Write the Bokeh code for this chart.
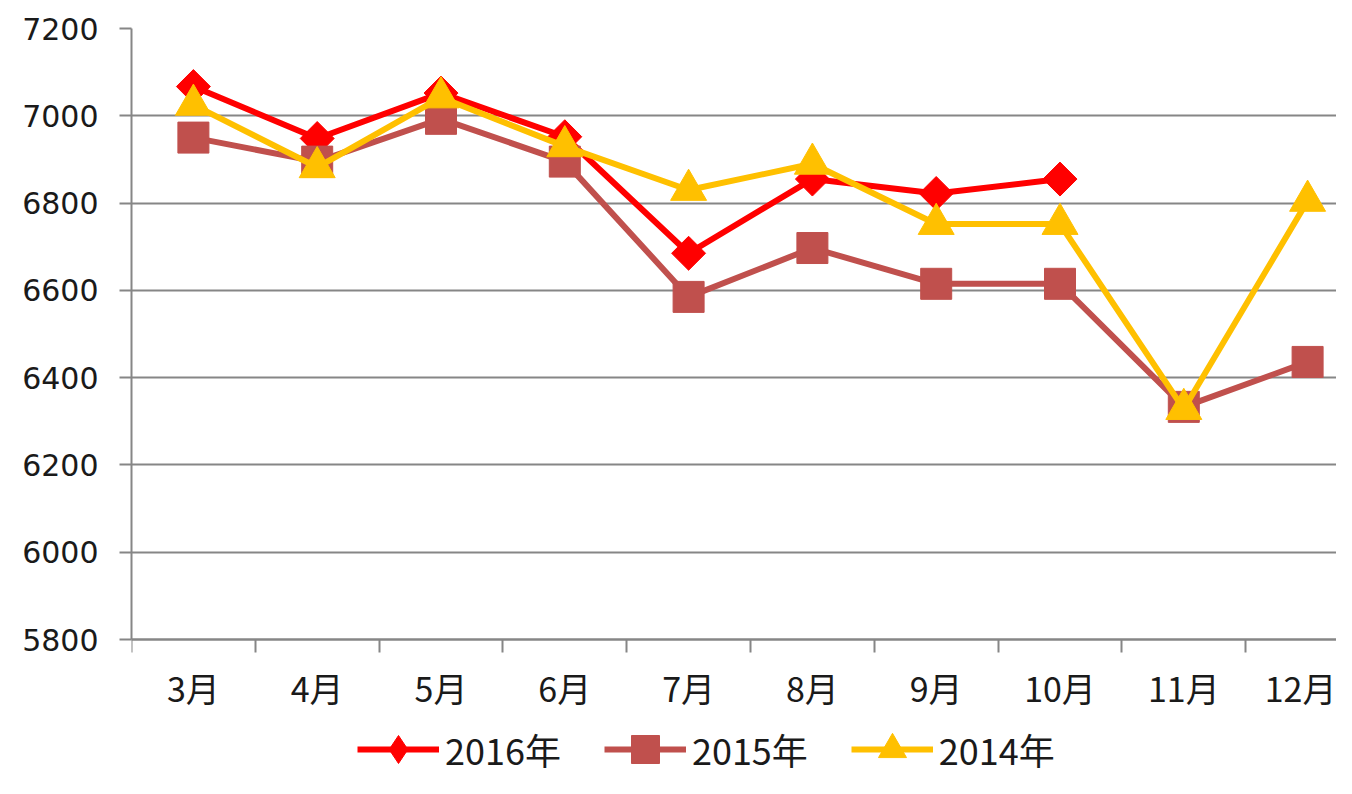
from bokeh.plotting import figure
from bokeh.models import FixedTicker, Legend, LegendItem, Range1d
from bokeh.embed import file_html
from bokeh.resources import INLINE
import math

months = ["3月", "4月", "5月", "6月", "7月", "8月", "9月", "10月", "11月", "12月"]
s2016 = [7067, 6948, 7052, 6952, 6685, 6855, 6822, 6855]
s2015 = [6950, 6895, 6993, 6895, 6585, 6697, 6615, 6615, 6333, 6436]
s2014 = [7025, 6882, 7042, 6930, 6830, 6890, 6752, 6752, 6328, 6805]
y_ticks = [5800, 6000, 6200, 6400, 6600, 6800, 7000, 7200]

RED = "#FF0000"
BROWN = "#C0504D"
GOLD = "#FFC000"
GRAY = "#868686"

W, H = 1336, 778
LEFT, TOP, BOTTOM_Y = 131, 28, 639
cat_w = 123.8
y_lo, y_hi = y_ticks[0], y_ticks[-1]
# extend the frame below the value axis so the legend can live inside it
y_start = y_lo - (H - BOTTOM_Y) * (y_hi - y_lo) / (BOTTOM_Y - TOP)

p = figure(width=W, height=H, output_backend="svg", toolbar_location=None,
           x_range=Range1d(0, (W - LEFT) / cat_w), y_range=Range1d(y_start, y_hi),
           min_border_left=LEFT, min_border_right=0, min_border_top=TOP,
           min_border_bottom=0)
p.outline_line_color = None
p.background_fill_color = "white"

xc = [i + 0.5 for i in range(len(months))]

# x axis (pinned at the bottom of the value range)
p.xaxis.fixed_location = y_lo
p.xaxis.ticker = FixedTicker(ticks=xc, minor_ticks=list(range(0, 10)))
p.xaxis.major_label_overrides = {x: m for x, m in zip(xc, months)}
p.xaxis.major_tick_out = 0
p.xaxis.major_tick_in = 0
p.xaxis.minor_tick_out = 13
p.xaxis.minor_tick_in = 0
p.xaxis.minor_tick_line_color = GRAY
p.xaxis.minor_tick_line_width = 2
p.xaxis.axis_line_color = GRAY
p.xaxis.axis_line_width = 2
p.xaxis.major_label_standoff = 10
p.xaxis.major_label_text_font = "Noto Sans CJK SC"
p.xaxis.major_label_text_font_size = "34px"
p.xaxis.major_label_text_color = "#1a1a1a"
p.xgrid.visible = False

# y axis
p.yaxis.bounds = (y_lo, y_hi)
p.yaxis.ticker = FixedTicker(ticks=y_ticks, minor_ticks=[])
p.yaxis.major_tick_out = 12
p.yaxis.major_tick_in = 0
p.yaxis.major_tick_line_color = GRAY
p.yaxis.major_tick_line_width = 2
p.yaxis.minor_tick_line_color = None
p.yaxis.axis_line_color = GRAY
p.yaxis.axis_line_width = 2
p.yaxis.major_label_standoff = 21
p.yaxis.major_label_text_font = "DejaVu Sans"
p.yaxis.major_label_text_font_size = "30px"
p.yaxis.major_label_text_color = "#1a1a1a"
p.ygrid.ticker = FixedTicker(ticks=y_ticks)
p.ygrid.grid_line_color = GRAY
p.ygrid.grid_line_width = 2

x16 = xc[:len(s2016)]
x15 = xc[:len(s2015)]
x14 = xc[:len(s2014)]

l16 = p.line(x16, s2016, line_color=RED, line_width=6, line_join="round")
# plain diamond (used by the legend), covered by the rotated squares below
d16 = p.scatter(x16, s2016, marker="diamond", size=20,
                fill_color=RED, line_color=RED, line_width=1)
m16 = p.scatter(x16, s2016, marker="square", size=24, angle=math.pi / 4,
                fill_color=RED, line_color=RED, line_width=1)
l15 = p.line(x15, s2015, line_color=BROWN, line_width=6, line_join="round")
m15 = p.scatter(x15, s2015, marker="square", size=31,
                fill_color=BROWN, line_color=BROWN, line_width=1)
l14 = p.line(x14, s2014, line_color=GOLD, line_width=6, line_join="round")
m14 = p.scatter(x14, s2014, marker="triangle", size=36,
                fill_color=GOLD, line_color=GOLD, line_width=1)

legend = Legend(items=[
    LegendItem(label="2016年", renderers=[l16, d16]),
    LegendItem(label="2015年", renderers=[l15, m15]),
    LegendItem(label="2014年", renderers=[l14, m14]),
], location=(226, -6), orientation="horizontal")
legend.glyph_width = 82
legend.glyph_height = 70
legend.label_height = 40
legend.label_standoff = 6
legend.spacing = 43
legend.padding = 0
legend.margin = 0
legend.border_line_color = None
legend.background_fill_alpha = 0
legend.label_text_font = "Noto Sans CJK SC"
legend.label_text_font_size = "36px"
legend.label_text_color = "#1a1a1a"
p.add_layout(legend, "center")

open("out.html", "w").write(file_html(p, INLINE))
